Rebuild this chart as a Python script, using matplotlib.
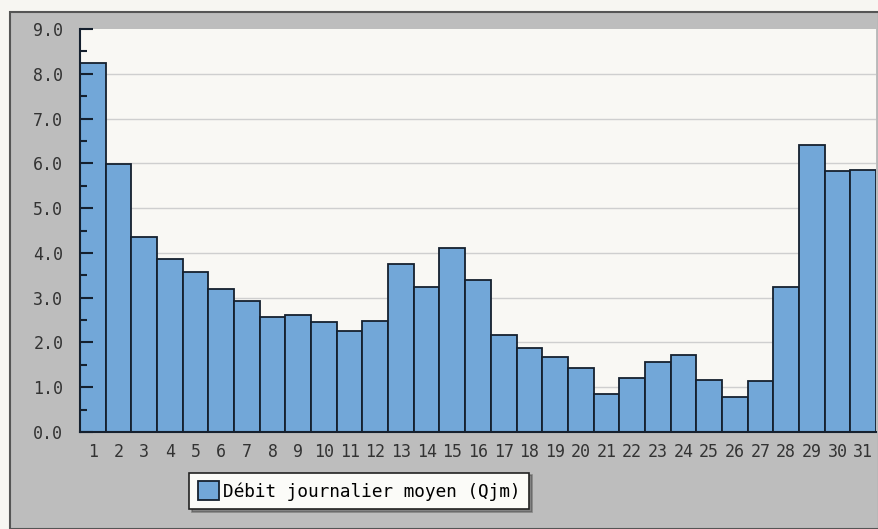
import matplotlib
matplotlib.use("Agg")
import matplotlib.pyplot as plt
from matplotlib.patches import Rectangle
from matplotlib.ticker import MultipleLocator, FormatStrFormatter

days = list(range(1, 32))
values = [8.24, 5.98, 4.35, 3.86, 3.57, 3.19, 2.92, 2.57, 2.61, 2.46,
          2.25, 2.48, 3.75, 3.24, 4.11, 3.39, 2.17, 1.88, 1.68, 1.43,
          0.85, 1.21, 1.56, 1.72, 1.16, 0.78, 1.14, 3.24, 6.41, 5.83, 5.85]
series_label = "Débit journalier moyen (Qjm)"
grid_levels = [1, 2, 3, 4, 5, 6, 7, 8]

W, H = 879, 529
fig = plt.figure(figsize=(W / 100, H / 100), dpi=100, facecolor="#f7f6f2")
# grey panel
panel = Rectangle((10 / W, 0), 1 - 10 / W, 1 - 12 / H, transform=fig.transFigure,
                  facecolor="#bdbdbd", edgecolor="#555555", linewidth=1.5, zorder=-5)
fig.patches.append(panel)

ax = fig.add_axes([80 / W, 1 - 432 / H, (876 - 80) / W, (432 - 29) / H])
ax.set_zorder(1)
ax.set_facecolor("#f9f8f4")

for g in grid_levels:
    ax.axhline(g, color="#cfcfcf", linewidth=1.0, zorder=1)

bar_color = "#72a7d8"
edge = "#15202e"
ax.bar(days, values, width=1.0, color=bar_color, edgecolor=edge, linewidth=1.3,
       label=series_label, zorder=3)

ax.set_xlim(0.5, 31.5)
ax.set_ylim(0, 9.0)
ax.yaxis.set_major_locator(MultipleLocator(1.0))
ax.yaxis.set_minor_locator(MultipleLocator(0.5))
ax.yaxis.set_major_formatter(FormatStrFormatter("%.1f"))
ax.set_xticks(days)
ax.set_xticklabels([str(d) for d in days])

mono = "DejaVu Sans Mono"
for lab in ax.get_xticklabels() + ax.get_yticklabels():
    lab.set_fontfamily(mono)
    lab.set_fontsize(12)
    lab.set_color("#333333")

ax.tick_params(axis="y", which="major", direction="in", length=9, width=1.5, color="#15202e", pad=12)
ax.tick_params(axis="y", which="minor", direction="in", length=5, width=1.5, color="#15202e")
ax.tick_params(axis="x", which="major", length=0, pad=8)
ax.set_axisbelow(False)
ax.yaxis.set_zorder(5)

for s in ["top", "right"]:
    ax.spines[s].set_visible(False)
ax.spines["left"].set_color("#15202e")
ax.spines["left"].set_linewidth(1.5)
ax.spines["left"].set_zorder(5)
ax.spines["bottom"].set_color("#15202e")
ax.spines["bottom"].set_linewidth(1.5)
ax.spines["bottom"].set_zorder(5)

leg = fig.legend(loc="center", bbox_to_anchor=(359 / W, 1 - 491 / H),
                 prop={"family": mono, "size": 12.8}, frameon=True, fancybox=False,
                 shadow=True, handlelength=1.2, handleheight=1.2, handletextpad=0.2,
                 borderpad=0.5, borderaxespad=0)
leg.get_frame().set_edgecolor("#222222")
leg.get_frame().set_facecolor("#fbfbf8")
leg.get_frame().set_linewidth(1.2)

fig.savefig("out.png", dpi=100, facecolor=fig.get_facecolor())
